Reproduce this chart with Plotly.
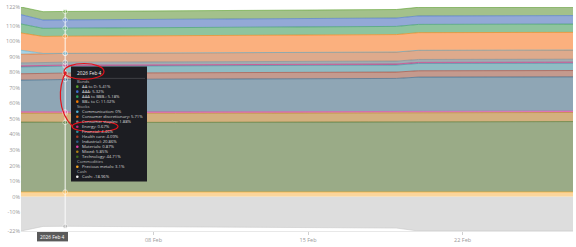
import plotly.graph_objects as go

# ---------------- data ----------------
dates = ["2026-02-02", "2026-02-03", "2026-02-04", "2026-02-05", "2026-02-06",
         "2026-02-09", "2026-02-10", "2026-02-11", "2026-02-12", "2026-02-13",
         "2026-02-16", "2026-02-17", "2026-02-18", "2026-02-19",
         "2026-02-20", "2026-02-23", "2026-02-24", "2026-02-25", "2026-02-26", "2026-02-27"]

aa_to_d = [4.9, 5.35, 5.41, 5.41, 5.42, 5.42, 5.43, 5.43, 5.44, 5.45, 5.45, 5.46, 5.47, 5.48,
           5.55, 5.55, 5.56, 5.56, 5.57, 5.57]
aaa = [6.0, 5.35, 5.32, 5.32, 5.33, 5.33, 5.34, 5.34, 5.35, 5.35, 5.36, 5.37, 5.38, 5.39,
       5.45, 5.45, 5.46, 5.46, 5.47, 5.47]
aaa_to_bbb = [5.8, 5.2, 5.18, 5.18, 5.19, 5.19, 5.2, 5.2, 5.21, 5.22, 5.23, 5.23, 5.24, 5.25,
              5.3, 5.3, 5.31, 5.31, 5.32, 5.32]
bb_to_c = [11.1, 10.95, 11.02, 11.03, 11.05, 11.06, 11.08, 11.1, 11.12, 11.14, 11.16, 11.18, 11.2, 11.22,
           11.35, 11.35, 11.36, 11.36, 11.37, 11.37]
communication = [2.6, 0, 0, 0, 0, 0, 0, 0, 0, 0, 0, 0, 0, 0, 0, 0, 0, 0, 0, 0]
cons_disc = [5.5, 5.68, 5.71, 5.72, 5.73, 5.74, 5.75, 5.76, 5.77, 5.78, 5.79, 5.8, 5.81, 5.82,
             5.9, 5.9, 5.91, 5.91, 5.92, 5.92]
cons_staples = [1.9, 1.88, 1.88, 1.88, 1.88, 1.88, 1.88, 1.88, 1.88, 1.88, 1.88, 1.88, 1.88, 1.88,
                1.88, 1.88, 1.88, 1.88, 1.88, 1.88]
energy = [0.7, 0.67, 0.67, 0.67, 0.67, 0.67, 0.67, 0.67, 0.67, 0.67, 0.67, 0.67, 0.67, 0.67,
          0.67, 0.67, 0.67, 0.67, 0.67, 0.67]
financial = [4.4, 4.45, 4.46, 4.46, 4.47, 4.47, 4.48, 4.48, 4.49, 4.49, 4.5, 4.5, 4.51, 4.51,
             4.7, 4.7, 4.7, 4.7, 4.7, 4.7]
health_care = [4.1, 4.09, 4.09, 4.09, 4.09, 4.09, 4.09, 4.09, 4.09, 4.09, 4.09, 4.09, 4.09, 4.09,
               4.09, 4.09, 4.09, 4.09, 4.09, 4.09]
industrial = [20.3, 20.8, 20.86, 20.9, 20.95, 21.0, 21.05, 21.1, 21.15, 21.2, 21.25, 21.3, 21.35, 21.4,
              21.9, 21.9, 21.95, 21.95, 22.0, 22.0]
materials = [0.9, 0.87, 0.87, 0.87, 0.87, 0.87, 0.87, 0.87, 0.87, 0.87, 0.87, 0.87, 0.87, 0.87,
             0.87, 0.87, 0.87, 0.87, 0.87, 0.87]
mixed = [5.8, 5.85, 5.85, 5.85, 5.85, 5.85, 5.85, 5.85, 5.85, 5.85, 5.85, 5.85, 5.85, 5.85,
         5.85, 5.85, 5.85, 5.85, 5.85, 5.85]
technology = [44.9, 44.75, 44.71, 44.72, 44.73, 44.74, 44.75, 44.76, 44.77, 44.78, 44.8, 44.82, 44.84, 44.86,
              45.2, 45.2, 45.22, 45.22, 45.25, 45.25]
precious_metals = [3.1, 3.1, 3.1, 3.1, 3.1, 3.1, 3.1, 3.1, 3.1, 3.1, 3.1, 3.1, 3.1, 3.1,
                   3.1, 3.1, 3.1, 3.1, 3.1, 3.1]
cash = [-22.0, -19.05, -18.96, -19.05, -19.15, -19.25, -19.35, -19.45, -19.55, -19.65, -19.75, -19.85, -19.95, -20.1,
        -22.0, -22.0, -22.0, -22.0, -22.0, -22.0]

y_ticks = [-22, -10, 0, 10, 20, 30, 40, 50, 60, 70, 80, 90, 100, 110, 122]
x_tickvals = ["2026-02-08", "2026-02-15", "2026-02-22"]
x_ticktext = ["08 Feb", "15 Feb", "22 Feb"]
hover_date = "2026-02-04"
hover_label = "2026 Feb 4"

# (group, name, values, marker colour, fill colour) -- bottom of stack first
stack = [
    ("Commodities", "Precious metals", precious_metals, "#f5a623", "rgba(251,211,150,0.95)"),
    ("Stocks", "Technology", technology, "#3e6a1e", "rgba(154,171,135,1)"),
    ("Stocks", "Mixed", mixed, "#b07f12", "rgba(212,176,126,1)"),
    ("Stocks", "Materials", materials, "#e040a0", "rgba(229,138,192,1)"),
    ("Stocks", "Industrial", industrial, "#2c5f86", "rgba(143,166,181,1)"),
    ("Stocks", "Health care", health_care, "#a53b2a", "rgba(196,154,142,1)"),
    ("Stocks", "Financial", financial, "#2a8fa0", "rgba(143,188,196,1)"),
    ("Stocks", "Energy", energy, "#c8287a", "rgba(212,122,165,1)"),
    ("Stocks", "Consumer staples", cons_staples, "#6f8591", "rgba(160,172,178,1)"),
    ("Stocks", "Consumer discretionary", cons_disc, "#e0661a", "rgba(222,170,140,1)"),
    ("Stocks", "Communication", communication, "#4fb0d8", "rgba(167,211,230,1)"),
    ("Bonds", "BB+ to C", bb_to_c, "#f57c00", "rgba(251,176,126,1)"),
    ("Bonds", "AAA to BBB-", aaa_to_bbb, "#2e9d55", "rgba(142,196,158,1)"),
    ("Bonds", "AAA", aaa, "#3f6fd0", "rgba(147,169,214,1)"),
    ("Bonds", "AA to D", aa_to_d, "#5aa02c", "rgba(163,193,139,1)"),
]
cash_series = ("Cash", "Cash", cash, "#9a9a9a", "rgba(221,221,221,1)")

hi = dates.index(hover_date)
msizes = [4.5 if d == hover_date else 0 for d in dates]

fig = go.Figure()
for grp, name, vals, mcol, fcol in stack:
    fig.add_trace(go.Scatter(
        x=dates, y=vals, name=name, stackgroup="pos", mode="lines+markers",
        line=dict(color=mcol, width=0.6), fillcolor=fcol, opacity=1,
        marker=dict(size=msizes, color=mcol, line=dict(color="white", width=0.8)),
        hoverinfo="skip", showlegend=False))
fig.add_trace(go.Scatter(
    x=dates, y=cash_series[2], name="Cash", stackgroup="neg", mode="lines+markers",
    line=dict(color="rgba(200,200,200,1)", width=0.6), fillcolor=cash_series[4],
    marker=dict(size=msizes, color=cash_series[3], line=dict(color="white", width=0.8)),
    hoverinfo="skip", showlegend=False))

# ---------------- overlay helpers (pixel -> paper) ----------------
L, R, T, B = 21, 573, 7, 233
def px(x):
    return (x - L) / (R - L)
def py(y):
    return (B - y) / (B - T)

shapes = []
annotations = []

# crosshair
shapes.append(dict(type="line", xref="x", yref="paper", x0=hover_date, x1=hover_date, y0=0, y1=1,
                   line=dict(color="rgba(255,255,255,0.9)", width=1), layer="above"))

# tooltip box
shapes.append(dict(type="rect", xref="paper", yref="paper", x0=px(71), x1=px(147), y0=py(67), y1=py(183),
                   fillcolor="#1c1d22", line=dict(width=0), layer="above"))
shapes.append(dict(type="line", xref="paper", yref="paper", x0=px(73), x1=px(145), y0=py(79), y1=py(79),
                   line=dict(color="#55565c", width=0.6), layer="above"))
annotations.append(dict(xref="paper", yref="paper", x=px(75), y=py(73.7), text=hover_label,
                        showarrow=False, xanchor="left", yanchor="middle",
                        font=dict(size=4.8, color="#eeeeee")))

groups = {}
for grp, name, vals, mcol, fcol in list(reversed(stack)) + [cash_series]:
    groups.setdefault(grp, []).append((name, vals[hi], mcol))
lines = []
for grp in ["Bonds", "Stocks", "Commodities", "Cash"]:
    lines.append((grp, None, None))
    for name, v, mcol in groups[grp]:
        lines.append((name, v, mcol))
for i, (name, v, mcol) in enumerate(lines):
    yy = 82.3 + i * 5.05
    if v is None:
        annotations.append(dict(xref="paper", yref="paper", x=px(75), y=py(yy), text=name, showarrow=False,
                                xanchor="left", yanchor="middle", font=dict(size=4.2, color="#b8b8b8")))
    else:
        dot = "#f0f0f0" if name == "Cash" else mcol
        shapes.append(dict(type="circle", xref="paper", yref="paper",
                           x0=px(76), x1=px(78.6), y0=py(yy + 1.3), y1=py(yy - 1.3),
                           fillcolor=dot, line=dict(width=0), layer="above"))
        annotations.append(dict(xref="paper", yref="paper", x=px(79.5), y=py(yy),
                                text=f"{name}: {v:g}%",
                                showarrow=False, xanchor="left", yanchor="middle",
                                font=dict(size=4.2, color="#d8d8d8")))

# red hand-drawn marks
red = "#e3121b"
shapes.append(dict(type="circle", xref="paper", yref="paper", x0=px(64), x1=px(104), y0=py(80), y1=py(64),
                   line=dict(color=red, width=1.2), layer="above"))
shapes.append(dict(type="circle", xref="paper", yref="paper", x0=px(72), x1=px(118), y0=py(133), y1=py(122),
                   line=dict(color=red, width=1.2), layer="above"))
path = (f"M {px(66)},{py(72)} C {px(58)},{py(88)} {px(57)},{py(112)} {px(73)},{py(128)}")
shapes.append(dict(type="path", xref="paper", yref="paper", path=path,
                   line=dict(color=red, width=1.2), layer="above"))

# date label on the x axis
shapes.append(dict(type="rect", xref="paper", yref="paper", x0=px(37), x1=px(68), y0=py(243.5), y1=py(234),
                   fillcolor="#5a5a5a", line=dict(width=0), layer="above"))
annotations.append(dict(xref="paper", yref="paper", x=px(52.5), y=py(238.8), text=hover_label,
                        showarrow=False, xanchor="center", yanchor="middle",
                        font=dict(size=4.8, color="#ffffff")))

fig.update_layout(
    width=576, height=247,
    margin=dict(l=L, r=576 - R, t=T, b=247 - B),
    paper_bgcolor="white", plot_bgcolor="white",
    font=dict(family="Open Sans, sans-serif"),
    showlegend=False, hovermode=False,
    shapes=shapes, annotations=annotations,
    xaxis=dict(type="date", range=[dates[0], dates[-1]], tickvals=x_tickvals, ticktext=x_ticktext,
               tickfont=dict(size=5.5, color="#999999"), ticks="outside", ticklen=3, tickcolor="#d0d0d0",
               showgrid=False, zeroline=False, showline=True, linecolor="#e8e8e8", linewidth=1),
    yaxis=dict(range=[-22, 122], tickvals=y_ticks, ticktext=[f"{v}%" for v in y_ticks],
               tickfont=dict(size=5.5, color="#999999"), showgrid=False, zeroline=False,
               ticks="", showline=False),
)

fig.write_html("out.html")
